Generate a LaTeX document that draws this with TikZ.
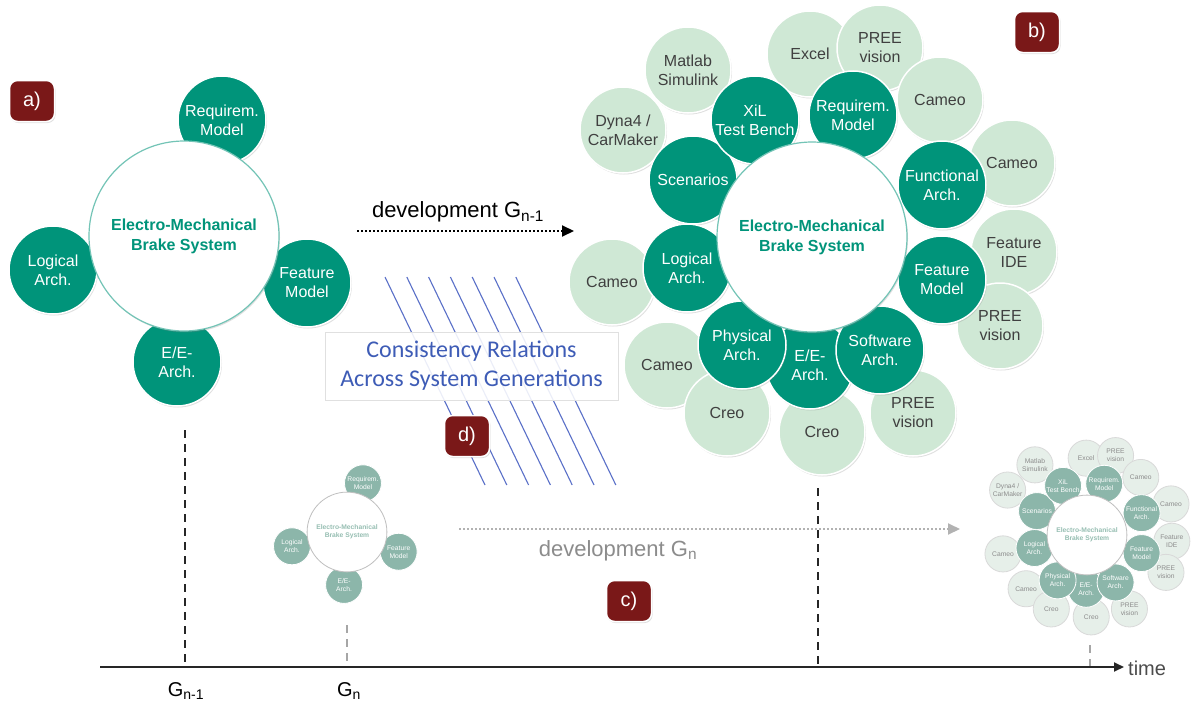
\documentclass[tikz,border=0pt]{standalone}
\usepackage{fontspec}
\setmainfont{Liberation Sans}
\newfontfamily\calibri{Carlito}
\usetikzlibrary{arrows.meta,shadows}

\definecolor{tealc}{RGB}{0,148,122}
\definecolor{lightc}{RGB}{207,232,213}
\definecolor{redc}{RGB}{122,24,24}
\definecolor{bluec}{RGB}{90,112,200}
\definecolor{bluetext}{RGB}{62,92,182}
\definecolor{fadedark}{RGB}{140,182,170}
\definecolor{fadelight}{RGB}{230,239,233}
\definecolor{fadetext}{RGB}{150,190,178}

\newcommand{\fsz}[2]{\fontsize{#1}{#2}\selectfont}

\newcommand{\diagA}[1]{%
  \node[dk] (#1req) at (38,-116) {Requirem.\\Model};
  \node[dk] (#1log) at (-131,34) {Logical\\Arch.};
  \node[dk] (#1fea) at (123,47) {Feature\\Model};
  \node[dk] (#1ee) at (-7,126) {E/E-\\Arch.};
  \node[core] (#1core) at (0,0) {Electro-Mechanical\\Brake System};
}

\newcommand{\diagB}[1]{%
  \node[lt] (#1mat) at (-124,-167) {Matlab\\Simulink};
  \node[lt] (#1exc) at (-2,-183) {Excel};
  \node[lt] (#1pt) at (68,-189) {PREE\\vision};
  \node[lt] (#1ctr) at (128,-137) {Cameo};
  \node[lt] (#1dyn) at (-189,-107) {Dyna4 /\\CarMaker};
  \node[lt] (#1cr) at (200,-74) {Cameo};
  \node[lt] (#1fid) at (202,15) {Feature\\IDE};
  \node[lt] (#1pr) at (188,89) {PREE\\vision};
  \node[lt] (#1cl) at (-200,45) {Cameo};
  \node[lt] (#1cll) at (-145,128) {Cameo};
  \node[lt] (#1crl) at (-85,176) {Creo};
  \node[lt] (#1crb) at (10,195) {Creo};
  \node[lt] (#1pb) at (101,176) {PREE\\vision};
  \node[dk] (#1scn) at (-119,-57) {Scenarios};
  \node[dk] (#1xil) at (-57,-117) {XiL\\Test Bench};
  \node[dk] (#1req) at (41,-122) {Requirem.\\Model};
  \node[dk] (#1fun) at (130,-52) {Functional\\Arch.};
  \node[dk] (#1log) at (-125,31) {Logical\\Arch.};
  \node[dk] (#1fea) at (130,43) {Feature\\Model};
  \node[dk] (#1ee) at (-2,128) {E/E-\\Arch.};
  \node[dk] (#1phy) at (-70,108) {Physical\\Arch.};
  \node[dk] (#1sw) at (68,113) {Software\\Arch.};
  \node[core] (#1core) at (0,0) {Electro-Mechanical\\Brake System};
}

\begin{document}
\begin{tikzpicture}[x=1pt,y=-1pt,
  shd/.style={drop shadow={shadow xshift=1pt,shadow yshift=-1.5pt,opacity=0.25}},
  core/.style={circle,fill=white,draw=tealc!55,line width=1.2pt,minimum size=190,inner sep=0pt,
    text=tealc,font=\bfseries\fsz{16}{20},align=center,shd},
  dk/.style={circle,fill=tealc,draw=white,line width=1.5pt,minimum size=88,inner sep=-2pt,
    text=white,font=\fsz{16}{19},align=center,shd},
  lt/.style={circle,fill=lightc,draw=white,line width=1.5pt,minimum size=86,inner sep=-2pt,
    text=black!75,font=\fsz{16}{19},align=center,shd},
  lettbox/.style={rectangle,rounded corners=8pt,fill=redc,draw=white,line width=1.5pt,
    minimum width=45,minimum height=41,text=white,font=\fsz{20}{24},shd},
  hatch/.style={bluec,line width=1.1pt},
  dashv/.style={black!85,line width=1.6pt,dash pattern=on 8pt off 6pt},
  dashg/.style={black!35,line width=1.4pt,dash pattern=on 8pt off 6pt},
  dotarrow/.style={line width=2pt,dash pattern=on 2pt off 2pt,-{Triangle[length=12pt,width=11pt]}},
  lab/.style={font=\fsz{22}{26}},
  ]
\useasboundingbox (0,0) rectangle (1192,704);
\fill[white] (0,0) rectangle (1192,704);

% vertical dashed markers
\coordinate (v1t) at (185,430); \coordinate (v1b) at (185,667);
\coordinate (v2t) at (818,488); \coordinate (v2b) at (818,667);
\coordinate (v3t) at (347,625); \coordinate (v3b) at (347,667);
\coordinate (v4t) at (1090,645); \coordinate (v4b) at (1090,667);
\draw[dashv] (v1t) -- (v1b);
\draw[dashv] (v2t) -- (v2b);
\draw[dashg] (v3t) -- (v3b);
\draw[dashg] (v4t) -- (v4b);

% hatch lines (consistency relations)
\foreach \i in {0,...,6}{
  \draw[hatch] (385+21.8*\i,277) -- ++(100,208);
}
\node[rectangle,draw=black!12,fill=white,fill opacity=0.88,text opacity=1,
  minimum width=293,minimum height=68,text=bluetext,align=center,
  font=\calibri\fsz{24}{29}] (cons) at (471.5,366) {Consistency Relations\\Across System Generations};

% diagram a)
\begin{scope}[shift={(184,236)}]
  \diagA{a}
\end{scope}

% diagram b)
\begin{scope}[shift={(812,237)}]
  \diagB{b}
\end{scope}

% small faded diagram (G_n start)
\begin{scope}[shift={(347,532)},scale=0.42,transform shape,
  shd/.style={},
  dk/.append style={fill=fadedark,draw=white,line width=0.8pt},
  core/.append style={draw=black!25,line width=0.8pt,text=fadetext}]
  \diagA{c}
\end{scope}

% small faded diagram (G_n end)
\begin{scope}[shift={(1087,535)},scale=0.42,transform shape,
  shd/.style={},
  dk/.append style={fill=fadedark,draw=white,line width=0.8pt},
  lt/.append style={fill=fadelight,draw=black!15,line width=0.8pt,text=black!45},
  core/.append style={draw=black!25,line width=0.8pt,text=fadetext}]
  \diagB{d}
\end{scope}

% development arrows
\coordinate (d1s) at (357,231); \coordinate (d1e) at (574,231);
\draw[dotarrow,black] (d1s) -- (d1e);
\node[lab] (d1lab) at (458,212) {development G\textsubscript{n-1}};

\coordinate (d2s) at (459,529); \coordinate (d2e) at (960,529);
\draw[dotarrow,black!30] (d2s) -- (d2e);
\node[lab,text=black!45] (d2lab) at (618,551) {development G\textsubscript{n}};

% letter boxes
\node[lettbox] (la) at (32,101) {a)};
\node[lettbox] (lb) at (1037,32) {b)};
\node[lettbox] (lc) at (629,601) {c)};
\node[lettbox] (ld) at (467,436) {d)};

% time axis
\coordinate (ax0) at (100,667); \coordinate (ax1) at (1124,667);
\draw[black!85,line width=1.8pt,-{Triangle[length=10pt,width=9pt]}] (ax0) -- (ax1);
\node[anchor=west,text=black!70,font=\fsz{20}{24},inner sep=2pt] (time) at (1126,668) {time};
\node[font=\fsz{20}{24}] (gn1) at (186,691) {G\textsubscript{n-1}};
\node[font=\fsz{20}{24}] (gn) at (349,691) {G\textsubscript{n}};
\end{tikzpicture}
\end{document}
